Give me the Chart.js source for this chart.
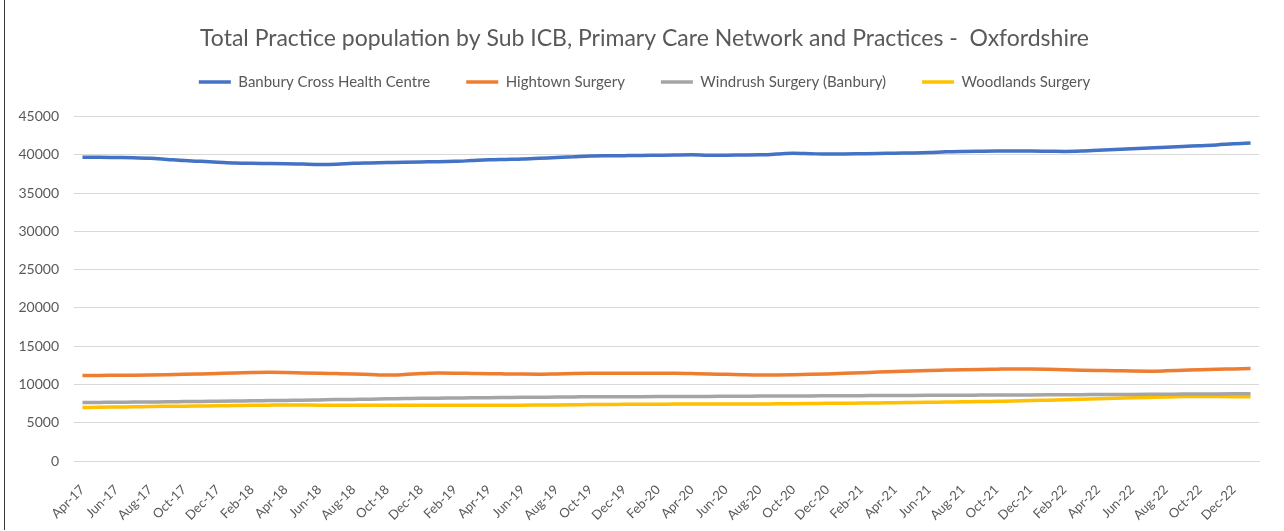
<!DOCTYPE html>
<html>
<head>
<meta charset="utf-8">
<script src="https://cdn.jsdelivr.net/npm/chart.js@4/dist/chart.umd.min.js"></script>
<style>
	html, body { margin: 0; padding: 0; background: #fff; }
	.frame { position: absolute; left: 4px; top: 0; width: 1279px; height: 530px; border-left: 1px solid #3a3a3a; }
	canvas { display: block; }
</style>
</head>
<body>
<div class="frame">
	<canvas id="myChart-population" width="1279" height="530"></canvas>
</div>
<script>
const months = [
	'Apr-17','May-17','Jun-17','Jul-17','Aug-17','Sep-17','Oct-17','Nov-17','Dec-17','Jan-18','Feb-18','Mar-18',
	'Apr-18','May-18','Jun-18','Jul-18','Aug-18','Sep-18','Oct-18','Nov-18','Dec-18','Jan-19','Feb-19','Mar-19',
	'Apr-19','May-19','Jun-19','Jul-19','Aug-19','Sep-19','Oct-19','Nov-19','Dec-19','Jan-20','Feb-20','Mar-20',
	'Apr-20','May-20','Jun-20','Jul-20','Aug-20','Sep-20','Oct-20','Nov-20','Dec-20','Jan-21','Feb-21','Mar-21',
	'Apr-21','May-21','Jun-21','Jul-21','Aug-21','Sep-21','Oct-21','Nov-21','Dec-21','Jan-22','Feb-22','Mar-22',
	'Apr-22','May-22','Jun-22','Jul-22','Aug-22','Sep-22','Oct-22','Nov-22','Dec-22','Jan-23'
];

const banburyCross = [
	39700, 39680, 39650, 39620, 39550, 39400, 39250, 39150, 39050, 38950, 38900, 38880,
	38850, 38800, 38750, 38780, 38900, 38950, 39000, 39050, 39080, 39100, 39150, 39250,
	39350, 39400, 39450, 39550, 39650, 39750, 39850, 39880, 39900, 39920, 39950, 39980,
	40000, 39950, 39950, 39980, 40000, 40100, 40200, 40150, 40100, 40120, 40150, 40180,
	40220, 40250, 40300, 40400, 40450, 40480, 40500, 40500, 40500, 40480, 40450, 40500,
	40600, 40700, 40800, 40900, 41000, 41100, 41200, 41300, 41450, 41550
];

const hightown = [
	11170, 11180, 11200, 11210, 11230, 11270, 11320, 11380, 11440, 11500, 11550, 11580,
	11560, 11500, 11450, 11420, 11380, 11300, 11230, 11300, 11420, 11500, 11480, 11440,
	11400, 11380, 11360, 11350, 11380, 11420, 11450, 11460, 11470, 11480, 11480, 11460,
	11420, 11380, 11320, 11270, 11240, 11250, 11280, 11320, 11380, 11450, 11530, 11620,
	11700, 11770, 11830, 11880, 11930, 11970, 12000, 12030, 12020, 11980, 11920, 11870,
	11830, 11800, 11760, 11740, 11780, 11850, 11920, 11980, 12030, 12080
];

const windrush = [
	7650, 7660, 7670, 7700, 7720, 7730, 7760, 7790, 7800, 7830, 7870, 7890,
	7920, 7940, 7980, 8020, 8050, 8080, 8130, 8160, 8200, 8210, 8240, 8250,
	8280, 8300, 8320, 8330, 8360, 8370, 8400, 8400, 8400, 8410, 8420, 8430,
	8440, 8440, 8460, 8470, 8480, 8490, 8500, 8500, 8520, 8530, 8540, 8550,
	8560, 8570, 8580, 8600, 8600, 8610, 8620, 8630, 8640, 8650, 8660, 8670,
	8680, 8690, 8700, 8710, 8720, 8740, 8760, 8770, 8780, 8790
];

const woodlands = [
	7000, 7020, 7050, 7080, 7110, 7140, 7170, 7190, 7210, 7240, 7270, 7300,
	7320, 7310, 7300, 7300, 7290, 7280, 7280, 7270, 7270, 7270, 7280, 7280,
	7270, 7280, 7290, 7310, 7330, 7350, 7370, 7390, 7400, 7410, 7420, 7440,
	7450, 7450, 7440, 7440, 7450, 7470, 7490, 7510, 7530, 7550, 7570, 7590,
	7610, 7640, 7670, 7700, 7730, 7760, 7800, 7840, 7890, 7950, 8010, 8070,
	8130, 8190, 8250, 8310, 8370, 8420, 8440, 8430, 8410, 8390
];

const yTicks = [0, 5000, 10000, 15000, 20000, 25000, 30000, 35000, 40000, 45000];

const font = "Lato, 'Open Sans', sans-serif";
const textColor = '#595959';

const makeSet = (label, data, color) => ({
	label: label,
	data: data,
	borderColor: color,
	backgroundColor: color,
	borderWidth: 3.5,
	pointRadius: 0,
	pointHoverRadius: 0,
	pointStyle: 'line',
	tension: 0.4,
	cubicInterpolationMode: 'monotone',
	fill: false
});

// the legend keeps a bit of empty room under its row, like the excel one
const legendGap = {
	id: 'legendGap',
	beforeInit(chart) {
		const fit = chart.legend.fit;
		chart.legend.fit = function () {
			fit.call(this);
			this.height += 17;
		};
	}
};

let ctx = document.getElementById('myChart-population');

const population = new Chart(ctx, {
	type: 'line',
	data: {
		labels: months,
		datasets: [
			makeSet('Banbury Cross Health Centre', banburyCross, '#4472C4'),
			makeSet('Hightown Surgery', hightown, '#ED7D31'),
			makeSet('Windrush Surgery (Banbury)', windrush, '#A5A5A5'),
			makeSet('Woodlands Surgery', woodlands, '#FFC000')
		]
	},
	options: {
		responsive: false,
		animation: false,
		layout: {
			padding: {left: 25, right: 25, top: 25, bottom: 2}
		},
		plugins: {
			title: {
				display: true,
				text: 'Total Practice population by Sub ICB, Primary Care Network and Practices -  Oxfordshire',
				color: textColor,
				font: {family: font, size: 23, weight: 'normal'},
				padding: {top: 0, bottom: -14}
			},
			legend: {
				position: 'top',
				labels: {
					color: textColor,
					font: {family: font, size: 15},
					usePointStyle: true,
					pointStyle: 'line',
					pointStyleWidth: 32,
					boxHeight: 15,
					padding: 36
				}
			},
			tooltip: {enabled: false}
		},
		scales: {
			x: {
				offset: true,
				grid: {display: false},
				border: {display: true, color: '#d9d9d9'},
				afterFit: axis => {
					axis.height = 67;
				},
				ticks: {
					color: textColor,
					font: {family: font, size: 13},
					autoSkip: false,
					minRotation: 45,
					maxRotation: 45,
					padding: 13,
					callback: function (val, i) {
						return i % 2 === 0 ? months[i] : '';
					}
				}
			},
			y: {
				min: yTicks[0],
				max: yTicks[yTicks.length - 1],
				afterBuildTicks: axis => {
					axis.ticks = yTicks.map(v => ({value: v}));
				},
				afterFit: axis => {
					axis.width = 44;
					// labels sit left of the narrow axis box, so don't clip them
					axis._computeLabelArea = () => undefined;
				},
				grid: {color: '#d9d9d9', lineWidth: 1, drawTicks: false},
				border: {display: false},
				ticks: {
					color: textColor,
					font: {family: font, size: 14},
					padding: 15,
					callback: v => String(v)
				}
			}
		}
	},
	plugins: [legendGap]
});
</script>
</body>
</html>
